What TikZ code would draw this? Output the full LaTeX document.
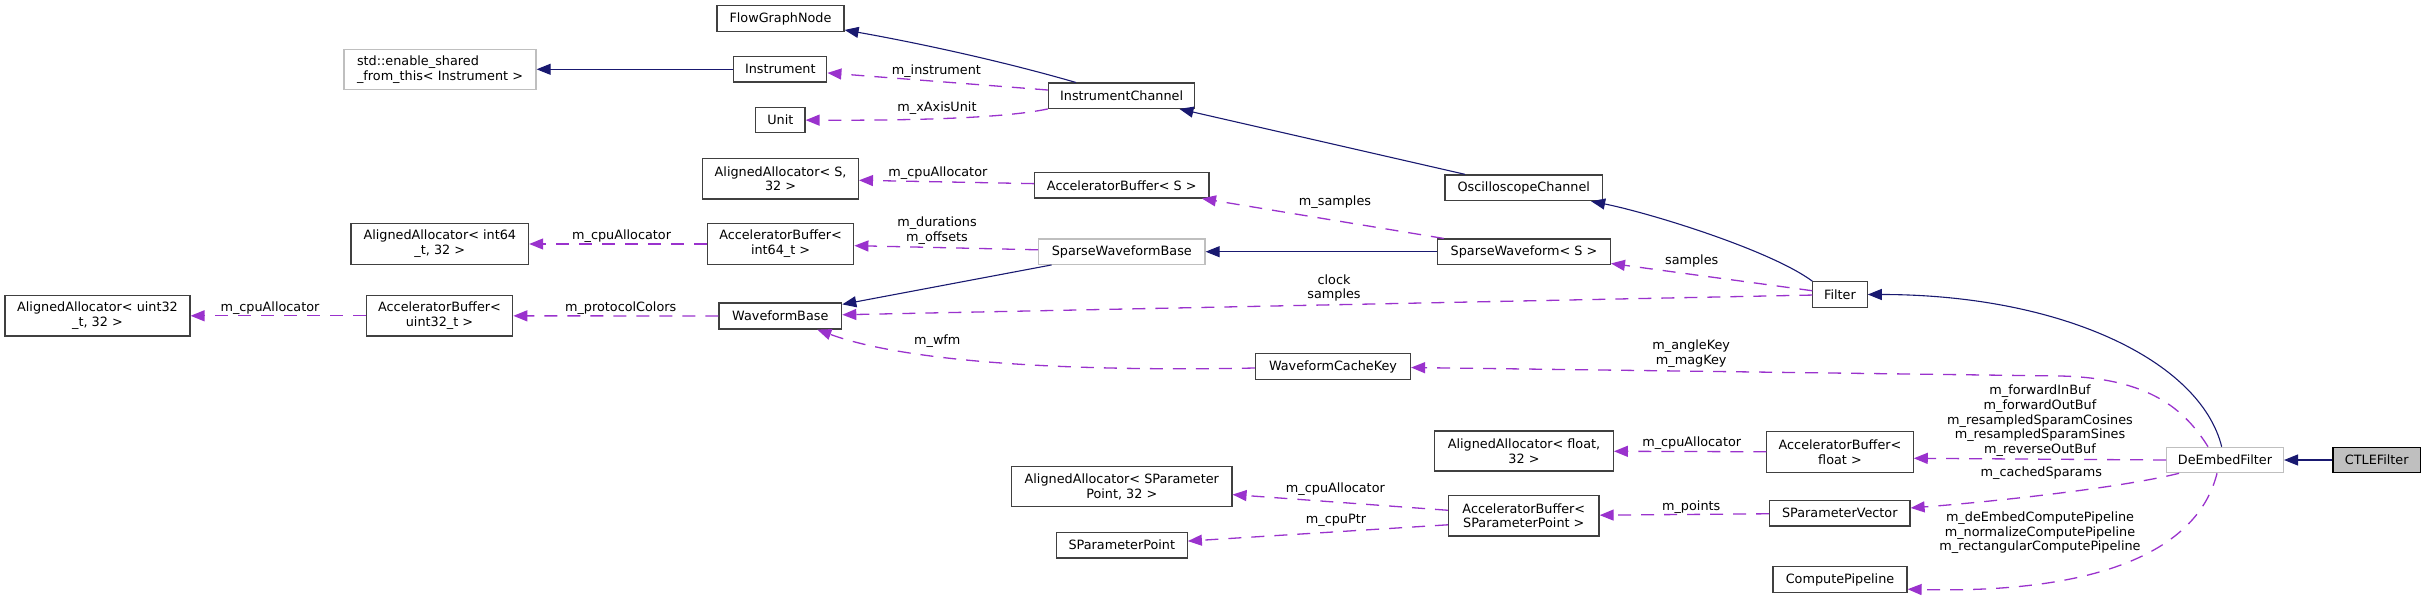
\documentclass[tikz,border=0pt]{standalone}
\usepackage{fontspec}
\setmainfont{DejaVu Sans}
\usetikzlibrary{arrows.meta}
\definecolor{inhcol}{HTML}{191970}
\definecolor{usecol}{HTML}{9A32CD}
\definecolor{boxcol}{HTML}{404040}
\definecolor{greybox}{HTML}{BFBFBF}
\begin{document}
\begin{tikzpicture}[x=1pt,y=-1pt,
 every node/.style={font=\fontsize{12.8}{14.8}\selectfont},
 box/.style={draw=boxcol, line width=1.2pt, fill=white, inner sep=0pt, align=center},
 graybox/.style={box, draw=greybox},
 focus/.style={box, draw=black, fill=greybox},
 boxsize/.style n args={2}{minimum width=#1pt, minimum height=#2pt},
 inh/.style={draw=inhcol, line width=1.1pt, -{Triangle[length=14pt,width=11pt]}},
 use/.style={draw=usecol, line width=1.3pt, dash pattern=on 13pt off 10pt, -{Triangle[length=14pt,width=11pt]}},
 lbl/.style={align=center, inner sep=0pt}
]
\useasboundingbox (0,0) rectangle (2425,599);

% nodes
\node[box, boxsize={127}{26}] (fgn) at (780.5,18.7) {FlowGraphNode};
\node[graybox, boxsize={192}{40}, align=left] (esf) at (440,69.3) {std::enable\_shared\\\_from\_this< Instrument >};
\node[box, boxsize={93}{25.3}] (inst) at (780.3,69.3) {Instrument};
\node[box, boxsize={49.4}{25.7}] (unit) at (780.3,120) {Unit};
\node[box, boxsize={146.4}{25.3}] (ich) at (1121.6,95.7) {InstrumentChannel};
\node[box, boxsize={155.6}{40.3}] (aaS) at (780.6,178.8) {AlignedAllocator< S,\\32 >};
\node[box, boxsize={174.4}{25.3}] (abS) at (1121.8,185.3) {AcceleratorBuffer< S >};
\node[box, boxsize={157.6}{25.7}] (osc) at (1523.8,187.8) {OscilloscopeChannel};
\node[box, boxsize={177.6}{40.6}] (aaI) at (439.8,244) {AlignedAllocator< int64\\\_t, 32 >};
\node[box, boxsize={146.4}{40.6}] (abI) at (780.6,244) {AcceleratorBuffer<\\int64\_t >};
\node[graybox, boxsize={166.4}{25.3}] (swb) at (1121.8,251.7) {SparseWaveformBase};
\node[box, boxsize={172.7}{25.3}] (sws) at (1524,251.7) {SparseWaveform< S >};
\node[box, boxsize={185}{40.3}] (aaU) at (97.5,315.8) {AlignedAllocator< uint32\\\_t, 32 >};
\node[box, boxsize={146.5}{40.3}] (abU) at (439.5,315.8) {AcceleratorBuffer<\\uint32\_t >};
\node[box, boxsize={122.8}{26}] (wfb) at (780.3,316) {WaveformBase};
\node[box, boxsize={54.3}{25.6}] (filt) at (1840,294.5) {Filter};
\node[box, boxsize={155}{25.6}] (wck) at (1333,366.5) {WaveformCacheKey};
\node[box, boxsize={178.6}{40}] (aaF) at (1524,451) {AlignedAllocator< float,\\32 >};
\node[box, boxsize={146.3}{40.6}] (abF) at (1840,452) {AcceleratorBuffer<\\float >};
\node[graybox, boxsize={116.8}{25.4}] (def) at (2225,460) {DeEmbedFilter};
\node[focus, boxsize={87.4}{25.4}] (ctle) at (2376.7,460) {CTLEFilter};
\node[box, boxsize={220.3}{40.4}] (aaP) at (1121.8,486.5) {AlignedAllocator< SParameter\\Point, 32 >};
\node[box, boxsize={131}{25.7}] (spp) at (1121.8,545.2) {SParameterPoint};
\node[box, boxsize={150.5}{40.3}] (abP) at (1523.8,515.8) {AcceleratorBuffer<\\SParameterPoint >};
\node[box, boxsize={140.4}{25.7}] (spv) at (1839.8,513.2) {SParameterVector};
\node[box, boxsize={134}{26}] (cp) at (1840,579.7) {ComputePipeline};

% inheritance
\draw[inh] (inst) -- (esf);
\draw[inh] (ich) .. controls (990,57.6) and (900,39.7) .. (fgn);
\draw[inh] (osc) -- (ich);
\draw[inh] (sws) -- (swb);
\draw[inh] (swb) -- (wfb);
\draw[inh] (filt.north west) .. controls (1770,250) and (1650,213) .. (osc);
\draw[inh] (def) .. controls (2200,360) and (2060,294.5) .. (filt);
\draw[inh] (ctle) -- (def);

% usage
\draw[use] (ich) -- (inst) node[lbl] at (936.4,71.3) {m\_instrument};
\draw[use] (ich.south west) .. controls (1000,119) and (900,120.5) .. (unit) node[lbl] at (937,107.7) {m\_xAxisUnit};
\draw[use] (abS) -- (aaS) node[lbl] at (937.9,173.3) {m\_cpuAllocator};
\draw[use] (sws) -- (abS) node[lbl] at (1335,201.7) {m\_samples};
\draw[use] (swb) -- (abI) node[lbl] at (937,231) {m\_durations\\m\_offsets};
\draw[use] (abI) -- (aaI) node[lbl] at (621.6,235.7) {m\_cpuAllocator};
\draw[use] (wfb) -- (abU) node[lbl] at (620.7,307.7) {m\_protocolColors};
\draw[use] (abU) -- (aaU) node[lbl] at (270,307.7) {m\_cpuAllocator};
\draw[use] (filt) -- (sws) node[lbl] at (1691.7,260.8) {samples};
\draw[use] (filt) -- (wfb) node[lbl] at (1334,288) {clock\\samples};
\draw[use] (wck) .. controls (1050,372) and (900,360) .. (wfb) node[lbl] at (937.3,341.3) {m\_wfm};
\draw[use] ([xshift=-17pt]def.north) .. controls (2185,410) and (2150,378) .. (2060,376) -- (wck) node[lbl] at (1691.2,353.7) {m\_angleKey\\m\_magKey};
\draw[use] (def.west) -- ([yshift=-6.3pt]abF.east) node[lbl] at (2040,420.7) {m\_forwardInBuf\\m\_forwardOutBuf\\m\_resampledSparamCosines\\m\_resampledSparamSines\\m\_reverseOutBuf};
\draw[use] (abF) -- (aaF) node[lbl] at (1691.7,443.3) {m\_cpuAllocator};
\draw[use] ([xshift=-46pt]def.south) .. controls (2120,488) and (1990,502) .. (spv) node[lbl] at (2041.3,472.7) {m\_cachedSparams};
\draw[use] (spv) -- (abP) node[lbl] at (1691.2,506.7) {m\_points};
\draw[use] ([xshift=-8pt]def.south) .. controls (2198,550) and (2100,594) .. ([yshift=-9.5pt]cp.east) node[lbl] at (2040,532.8) {m\_deEmbedComputePipeline\\m\_normalizeComputePipeline\\m\_rectangularComputePipeline};
\draw[use] (abP) -- (aaP) node[lbl] at (1335.4,489) {m\_cpuAllocator};
\draw[use] ([yshift=-9pt]abP.west) -- (spp) node[lbl] at (1336,520) {m\_cpuPtr};
\end{tikzpicture}
\end{document}
